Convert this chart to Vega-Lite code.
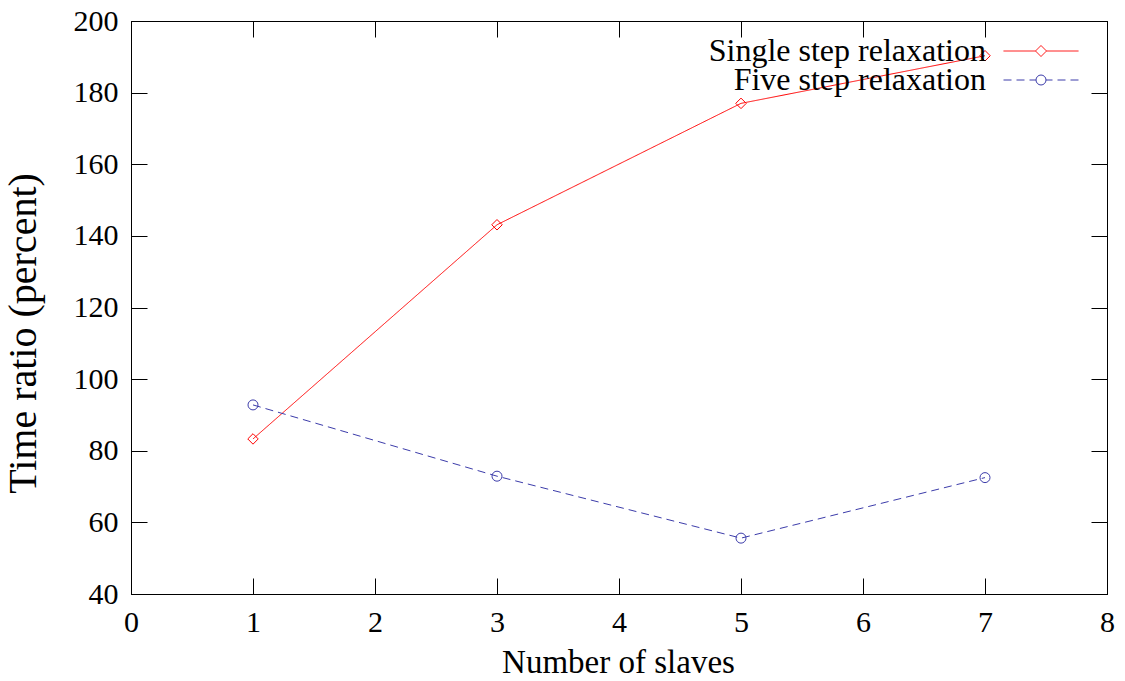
{
  "$schema": "https://vega.github.io/schema/vega-lite/v6.json",
  "width": 976,
  "height": 573,
  "autosize": {"type": "none"},
  "padding": {"left": 131, "top": 21, "right": 18, "bottom": 87},
  "background": "white",
  "config": {
    "view": {"stroke": "black", "strokeWidth": 1},
    "font": "Liberation Serif",
    "axis": {
      "domainColor": "black",
      "domainWidth": 1,
      "tickColor": "black",
      "tickWidth": 1,
      "tickSize": -16,
      "grid": false,
      "labelFlush": false,
      "labelOverlap": false,
      "labelFont": "Liberation Serif",
      "labelFontSize": 30,
      "labelColor": "black",
      "labelPadding": 29,
      "titleFont": "Liberation Serif",
      "titleFontSize": 33,
      "titleFontWeight": "normal",
      "titleColor": "black"
    },
    "legend": {
      "title": null,
      "orient": "none",
      "padding": 0,
      "labelAlign": "right",
      "labelOffset": -71,
      "labelFont": "Liberation Serif",
      "labelFontSize": 32,
      "labelColor": "black",
      "labelLimit": 600,
      "symbolSize": 100,
      "symbolStrokeWidth": 1,
      "symbolFillColor": "transparent",
      "symbolOpacity": 1
    }
  },
  "data": {
    "values": [
      {"series": "Single step relaxation", "key": "Single step relaxation", "slaves": 1, "ratio": 83.3},
      {"series": "Single step relaxation", "key": "Single step relaxation", "slaves": 3, "ratio": 143.1},
      {"series": "Single step relaxation", "key": "Single step relaxation", "slaves": 5, "ratio": 177.0},
      {"series": "Single step relaxation", "key": "Single step relaxation", "slaves": 7, "ratio": 190.3},
      {"series": "Five step relaxation", "key": "Five step relaxation", "slaves": 1, "ratio": 92.8},
      {"series": "Five step relaxation", "key": "Five step relaxation", "slaves": 3, "ratio": 72.9},
      {"series": "Five step relaxation", "key": "Five step relaxation", "slaves": 5, "ratio": 55.6},
      {"series": "Five step relaxation", "key": "Five step relaxation", "slaves": 7, "ratio": 72.5}
    ]
  },
  "layer": [
    {
      "mark": {"type": "line", "strokeWidth": 1},
      "encoding": {
        "x": {
          "field": "slaves", "type": "quantitative",
          "scale": {"domain": [0, 8], "nice": false, "zero": false},
          "axis": {"orient": "bottom", "title": "Number of slaves", "values": [0, 1, 2, 3, 4, 5, 6, 7, 8], "format": "d", "titleX": 487, "titleY": 78, "titleBaseline": "alphabetic", "titleAlign": "center"}
        },
        "y": {
          "field": "ratio", "type": "quantitative",
          "scale": {"domain": [40, 200], "nice": false, "zero": false},
          "axis": {"orient": "left", "title": "Time ratio (percent)", "values": [40, 60, 80, 100, 120, 140, 160, 180, 200], "format": "d", "titleFontSize": 40, "titleX": -96, "titleY": 312, "titleBaseline": "alphabetic", "titleAlign": "center", "titleAngle": -90}
        },
        "color": {
          "field": "series", "type": "nominal",
          "scale": {"domain": ["Single step relaxation", "Five step relaxation"], "range": ["#ff0000", "#3c3caa"]},
          "legend": {
            "values": ["Single step relaxation"],
            "legendX": 894,
            "legendY": 14,
            "symbolType": "M-7.5,0L-1.1,0M1.1,0L7.5,0M0,-1.1L1.1,0L0,1.1L-1.1,0Z",
            "symbolStrokeColor": "#ff0000"
          }
        },
        "strokeDash": {
          "field": "series", "type": "nominal",
          "scale": {"domain": ["Single step relaxation", "Five step relaxation"], "range": [[1, 0], [8, 5]]},
          "legend": null
        }
      }
    },
    {
      "transform": [{"filter": "datum.series === 'Single step relaxation'"}],
      "mark": {"type": "point", "shape": "diamond", "filled": false, "strokeWidth": 1, "opacity": 1, "color": "#ff0000", "size": 110},
      "encoding": {
        "x": {
          "field": "slaves", "type": "quantitative",
          "axis": {"orient": "top", "title": null, "labels": false, "values": [0, 1, 2, 3, 4, 5, 6, 7, 8]}
        },
        "y": {
          "field": "ratio", "type": "quantitative",
          "axis": {"orient": "right", "title": null, "labels": false, "values": [40, 60, 80, 100, 120, 140, 160, 180, 200]}
        }
      }
    },
    {
      "transform": [{"filter": "datum.series === 'Five step relaxation'"}],
      "mark": {"type": "point", "shape": "circle", "filled": false, "strokeWidth": 1, "color": "#3c3caa", "size": 100},
      "encoding": {
        "x": {"field": "slaves", "type": "quantitative", "axis": null},
        "y": {"field": "ratio", "type": "quantitative", "axis": null},
        "opacity": {
          "field": "key", "type": "nominal",
          "scale": {"domain": ["Five step relaxation"], "range": [1, 1]},
          "legend": {
            "values": ["Five step relaxation"],
            "legendX": 894,
            "legendY": 43,
            "symbolType": "M-7.5,0L-5.9,0M-4.9,0L-3.3,0M-2.3,0L-1,0M1,0L2.3,0M3.3,0L4.9,0M5.9,0L7.5,0M-1,0A1,1 0 1,0 1,0A1,1 0 1,0 -1,0Z",
            "symbolStrokeColor": "#3c3caa"
          }
        }
      }
    }
  ],
  "resolve": {"axis": {"x": "independent", "y": "independent"}}
}
